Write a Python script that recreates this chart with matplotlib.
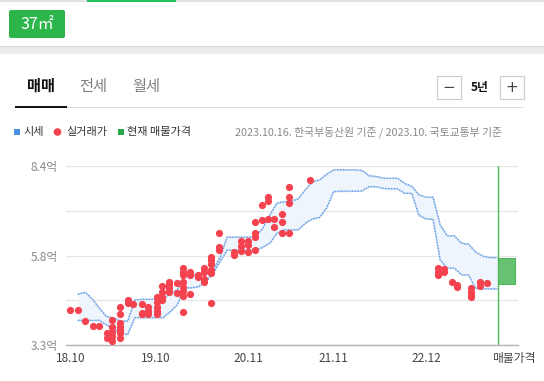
import numpy as np
import matplotlib
matplotlib.use('Agg')
import matplotlib.pyplot as plt
from matplotlib.patches import Rectangle, FancyBboxPatch, Circle

plt.rcParams['font.family'] = ['Noto Sans CJK KR', 'DejaVu Sans']

# x축: 2018.10 = 0 기준 월 인덱스
tick_months = [0, 12, 25, 37, 50]
tick_labels = ['18.10', '19.10', '20.11', '21.11', '22.12']

# 시세 (상한 / 하한), 단위: 억
band_month = list(range(1, 61))
band_upper = [4.75, 4.80, 4.61, 4.35, 4.11, 4.07, 3.98, 3.98, 4.58, 4.60,
              4.60, 4.60, 4.62, 4.77, 4.88, 5.29, 5.29, 5.30, 5.38, 5.43,
              5.80, 6.37, 6.37, 6.37, 6.37, 6.40, 6.62, 7.00, 7.34, 7.38,
              7.40, 7.46, 7.72, 7.95, 8.00, 8.16, 8.29, 8.29, 8.29, 8.29,
              8.27, 8.12, 8.10, 8.05, 8.05, 8.05, 7.90, 7.82, 7.58, 7.51,
              7.51, 6.72, 6.41, 6.41, 6.20, 6.17, 5.95, 5.83, 5.79, 5.79]
band_lower = [4.00, 4.00, 4.00, 4.00, 3.87, 3.78, 3.61, 3.60, 4.08, 4.08,
              4.08, 4.08, 4.08, 4.25, 4.45, 4.92, 4.93, 4.96, 5.10, 5.34,
              5.68, 6.00, 6.00, 6.00, 6.00, 6.01, 6.08, 6.20, 6.48, 6.58,
              6.58, 6.58, 6.77, 6.89, 6.93, 7.20, 7.67, 7.68, 7.68, 7.68,
              7.69, 7.81, 7.81, 7.76, 7.75, 7.75, 7.62, 7.62, 7.00, 6.89,
              6.88, 5.72, 5.49, 5.49, 5.30, 5.29, 4.91, 4.90, 4.90, 4.90]

# 실거래가
deal_month = [-0.14, 1.03, 1.97, 3.14, 3.99,
              5.03, 5.03,
              5.82, 5.82, 5.82, 5.82, 5.82,
              6.9, 6.9, 6.9, 6.9, 6.9, 6.9, 6.9,
              7.99, 7.99, 8.77,
              9.96, 9.96, 9.96,
              10.9, 10.9, 10.9,
              12.07, 12.07, 12.07, 12.07, 12.07,
              12.86, 12.86, 12.86, 12.86,
              13.8, 13.8, 13.8, 13.8,
              14.89, 14.89,
              15.73, 15.73, 15.73, 15.73, 15.73, 15.73, 15.73, 15.73,
              16.76, 16.76, 16.76,
              17.93, 17.93,
              18.73, 18.73, 18.73, 18.73,
              19.72, 19.72, 19.72, 19.72, 19.72, 19.72,
              20.89, 20.89, 20.89,
              23.0, 23.0,
              23.9, 23.9, 23.9,
              24.89, 24.89, 24.89,
              25.9, 25.9, 25.9, 25.9,
              26.86, 26.86,
              27.7, 27.7, 27.7,
              28.6, 28.6,
              29.76, 29.76, 29.76,
              30.7, 30.7, 30.7, 30.7,
              33.66,
              51.73, 51.73, 51.73,
              52.54, 52.54,
              53.6,
              54.4, 54.4,
              56.4, 56.4, 56.4, 56.4,
              57.6, 57.6,
              58.6]
deal_price = [4.30, 4.30, 3.99, 3.85, 3.85,
              3.63, 3.49,
              4.01, 3.82, 3.68, 3.57, 3.40,
              4.39, 4.18, 3.92, 3.82, 3.73, 3.63, 3.49,
              4.58, 4.49, 4.47,
              4.47, 4.22, 4.18,
              4.39, 4.28, 4.18,
              4.66, 4.53, 4.39, 4.28, 4.18,
              4.98, 4.82, 4.68, 4.58,
              5.10, 5.01, 4.92, 4.82,
              5.07, 4.79,
              5.49, 5.39, 5.29, 5.10, 4.96, 4.85, 4.70, 4.25,
              5.39, 5.29, 4.74,
              5.29, 5.23,
              5.49, 5.39, 5.17, 5.10,
              5.80, 5.72, 5.61, 5.44, 5.36, 4.49,
              6.50, 6.08, 6.01,
              5.96, 5.86,
              6.27, 6.12, 5.99,
              6.27, 6.15, 5.96,
              6.80, 6.50, 6.37, 6.01,
              7.29, 6.85,
              7.51, 7.41, 6.88,
              6.88, 6.67,
              7.03, 6.81, 6.50,
              7.79, 7.51, 7.35, 6.50,
              8.00,
              5.49, 5.39, 5.29,
              5.46, 5.37,
              5.10,
              5.01, 4.94,
              4.92, 4.82, 4.73, 4.68,
              5.10, 4.98,
              5.06]

# 현재 매물가격
listing_month = 60.1
listing_low, listing_high = 5.04, 5.78

y_ticks = [3.3, 4.575, 5.85, 7.125, 8.4]
y_labels = ['3.3억', '', '5.8억', '', '8.4억']

W, H = 544, 381
fig = plt.figure(figsize=(W / 100, H / 100), dpi=100)

# 상단 UI (픽셀 좌표)
bg = fig.add_axes([0, 0, 1, 1])
bg.set_xlim(0, W)
bg.set_ylim(H, 0)
bg.axis('off')

bg.add_patch(Rectangle((0, 0), W, 1.5, color='#e3e3e3', lw=0))
bg.add_patch(Rectangle((87, 0), 89, 1.8, color='#21c35a', lw=0))
bg.add_patch(FancyBboxPatch((9, 10), 56, 28, boxstyle='round,pad=0,rounding_size=2',
                            fc='#2bb54b', ec='none'))
bg.text(37, 24.5, '37㎡', color='white', fontsize=11.5, ha='center', va='center')
bg.add_patch(Rectangle((0, 46), W, 8, color='#eaebed', lw=0))
bg.add_patch(Rectangle((0, 46), W, 0.8, color='#d9d9d9', lw=0))

bg.text(41, 86, '매매', fontsize=11, fontweight='bold', color='#111111', ha='center', va='center')
bg.text(93.5, 86, '전세', fontsize=11, color='#7d7d7d', ha='center', va='center')
bg.text(146, 86, '월세', fontsize=11, color='#7d7d7d', ha='center', va='center')
bg.add_patch(Rectangle((15, 107), 509, 1, color='#dddddd', lw=0))
bg.add_patch(Rectangle((15, 106), 52, 2.2, color='#111111', lw=0))

for bx, sym in [(437, '−'), (500, '+')]:
    bg.add_patch(Rectangle((bx, 76), 23.5, 23, fc='white', ec='#cccccc', lw=0.8))
    bg.text(bx + 11.75, 87.5, sym, fontsize=11, color='#444444', ha='center', va='center',
            family=['DejaVu Sans'])
bg.text(480, 87.5, '5년', fontsize=8.5, fontweight='bold', color='#111111', ha='center', va='center')

# 범례
bg.add_patch(Rectangle((14, 129), 6, 6, color='#4a90e2', lw=0))
bg.text(24, 132, '시세', fontsize=8, color='#333333', va='center')
bg.add_patch(Circle((57.5, 132), 3.8, color='#f5424f', lw=0))
bg.text(66, 132, '실거래가', fontsize=8, color='#333333', va='center')
bg.add_patch(Rectangle((118, 129), 6, 6, color='#2aa84a', lw=0))
bg.text(127, 132, '현재 매물가격', fontsize=8, color='#333333', va='center')
bg.text(502, 132, '2023.10.16. 한국부동산원 기준 / 2023.10. 국토교통부 기준',
        fontsize=7.8, color='#8a8a8a', ha='right', va='center')

# 차트
x0, x1, y0, y1 = 66, 518, 166, 345
ax = fig.add_axes([x0 / W, 1 - y1 / H, (x1 - x0) / W, (y1 - y0) / H])
ax.set_xlim(-0.7, 62.96)
ax.set_ylim(3.3, 8.4)
for s in ['top', 'right', 'left']:
    ax.spines[s].set_visible(False)
ax.spines['bottom'].set_color('#b5b5b5')
ax.spines['bottom'].set_linewidth(1)

ax.set_yticks(y_ticks)
ax.set_yticklabels(y_labels)
ax.grid(axis='y', color='#e6e6e6', lw=0.9)
ax.set_axisbelow(True)
ax.tick_params(axis='y', length=0, pad=6, labelsize=8.5, labelcolor='#8a8a8a')
ax.set_xticks(tick_months + [62.4])
ax.set_xticklabels(tick_labels + ['매물가격'])
ax.tick_params(axis='x', length=0, pad=5, labelsize=8.5, labelcolor='#444444')

ax.fill_between(band_month, band_lower, band_upper, color='#eef5fc', lw=0, zorder=1)
for series in (band_upper, band_lower):
    ax.plot(band_month, series, color='#bcd5f3', lw=1.2, zorder=2)
    ax.plot(band_month, series, color='#5b96e4', lw=0.9, ls=(0, (1, 1.3)), zorder=2)

ax.scatter(deal_month, deal_price, s=27, color='#f5424f', lw=0, zorder=3)

ax.axvline(listing_month, color='#4cbb5a', lw=1, zorder=2)
ax.add_patch(Rectangle((listing_month, listing_low), 2.4, listing_high - listing_low,
                       fc='#66c270', ec='#53b35e', lw=0.8, zorder=3, clip_on=False))

fig.savefig('out.png', dpi=100)
